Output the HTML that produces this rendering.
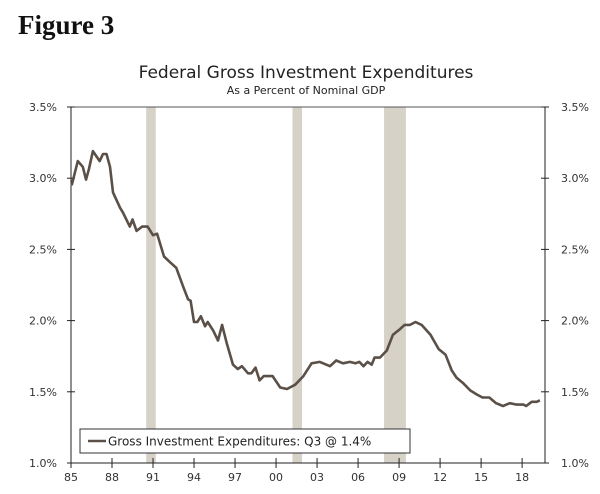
<!DOCTYPE html>
<html><head><meta charset="utf-8"><style>
body{margin:0;background:#fff;width:600px;height:494px;overflow:hidden}
svg{display:block}
</style></head><body>
<svg id="c" width="600" height="494" font-family="DejaVu Sans, Liberation Sans, sans-serif">
<text x="18" y="34" font-family="Liberation Serif, serif" font-weight="bold" font-size="27" fill="#111">Figure 3</text>
<text x="306" y="78" text-anchor="middle" font-size="17" fill="#222">Federal Gross Investment Expenditures</text>
<text x="306" y="94" text-anchor="middle" font-size="11" fill="#222">As a Percent of Nominal GDP</text>
<g id="rec"></g>
<g id="axes"></g>
<path id="line" fill="none" stroke="#5a5048" stroke-width="2.6" stroke-linejoin="round"/>
<g>
<rect x="80" y="429" width="330" height="24" fill="#fff" stroke="#333" stroke-width="1"/>
<line x1="88" y1="441" x2="106" y2="441" stroke="#5a5048" stroke-width="2.6"/>
<text x="108" y="445.5" font-size="12" fill="#222">Gross Investment Expenditures: Q3 @ 1.4%</text>
</g>
</svg>
<script>
const years=[1985.05,1985.5,1985.86,1986.1,1986.3,1986.6,1987.1,1987.34,1987.6,1987.85,1988.07,1988.6,1988.8,1989.3,1989.5,1989.8,1990.2,1990.6,1991.0,1991.3,1991.8,1992.24,1992.7,1993.2,1993.56,1993.75,1994.0,1994.24,1994.5,1994.8,1995.0,1995.4,1995.75,1996.05,1996.4,1996.85,1997.2,1997.5,1997.95,1998.2,1998.5,1998.8,1999.1,1999.75,2000.3,2000.8,2001.4,2002.0,2002.6,2003.2,2003.95,2004.4,2004.9,2005.4,2005.8,2006.1,2006.4,2006.7,2007.0,2007.2,2007.6,2008.1,2008.55,2009.07,2009.4,2009.8,2010.2,2010.65,2011.3,2011.9,2012.4,2012.85,2013.2,2013.7,2014.2,2014.7,2015.1,2015.6,2016.1,2016.6,2017.1,2017.6,2018.1,2018.3,2018.7,2019.07,2019.3];
const values=[2.95,3.12,3.08,2.99,3.06,3.19,3.12,3.17,3.17,3.08,2.90,2.79,2.76,2.66,2.71,2.63,2.66,2.66,2.60,2.61,2.45,2.41,2.37,2.24,2.15,2.14,1.99,1.99,2.03,1.96,1.99,1.93,1.86,1.97,1.84,1.69,1.66,1.68,1.63,1.63,1.67,1.58,1.61,1.61,1.53,1.52,1.55,1.61,1.70,1.71,1.68,1.72,1.70,1.71,1.70,1.71,1.68,1.71,1.69,1.74,1.74,1.79,1.90,1.94,1.97,1.97,1.99,1.97,1.90,1.80,1.76,1.65,1.60,1.56,1.51,1.48,1.46,1.46,1.42,1.40,1.42,1.41,1.41,1.40,1.43,1.43,1.44];
const recStart=[1990.5,2001.2,2007.9];
const recEnd=[1991.2,2001.9,2009.5];
const xTicks=[1985,1988,1991,1994,1997,2000,2003,2006,2009,2012,2015,2018];
const xLabels=["85","88","91","94","97","00","03","06","09","12","15","18"];
const yTicks=[1.0,1.5,2.0,2.5,3.0,3.5];
const yLabels=["1.0%","1.5%","2.0%","2.5%","3.0%","3.5%"];
const L=71,R=545,T=107,B=463;
const X=y=>L+(y-1985)*13.67;
const Y=v=>B-(v-1.0)/2.5*(B-T);
const NS="http://www.w3.org/2000/svg";
function mk(tag,attrs,parent){const e=document.createElementNS(NS,tag);for(const k in attrs)e.setAttribute(k,attrs[k]);parent.appendChild(e);return e;}
const rec=document.getElementById('rec');
recStart.forEach((s,i)=>{const r=mk('rect',{x:X(s),y:T,width:X(recEnd[i])-X(s),height:B-T,fill:'#d6d2c8'},rec);

});
const ax=document.getElementById('axes');
let e=mk('line',{x1:L,y1:T,x2:R,y2:T,stroke:'#555','stroke-width':1},ax);

e=mk('line',{x1:L,y1:T,x2:L,y2:B,stroke:'#222','stroke-width':1},ax);

e=mk('line',{x1:R,y1:T,x2:R,y2:B,stroke:'#222','stroke-width':1},ax);

e=mk('line',{x1:L,y1:B,x2:R,y2:B,stroke:'#222','stroke-width':1},ax);

yTicks.forEach((v,i)=>{const y=Y(v);
mk('line',{x1:L-4,y1:y,x2:L+4,y2:y,stroke:'#222'},ax);
mk('line',{x1:R-4,y1:y,x2:R+4,y2:y,stroke:'#222'},ax);
const t1=mk('text',{x:L-14,y:y+4,'text-anchor':'end','font-size':11,fill:'#333'},ax);t1.textContent=yLabels[i];


const t2=mk('text',{x:R+16,y:y+4,'text-anchor':'start','font-size':11,fill:'#333'},ax);t2.textContent=yLabels[i];

});
xTicks.forEach((v,i)=>{const x=X(v);
mk('line',{x1:x,y1:B-5,x2:x,y2:B+5,stroke:'#222'},ax);
const t=mk('text',{x:x,y:B+18,'text-anchor':'middle','font-size':11,fill:'#333'},ax);t.textContent=xLabels[i];

});
document.getElementById('line').setAttribute('d',years.map((y,i)=>(i?'L':'M')+X(y).toFixed(1)+','+Y(values[i]).toFixed(1)).join(''));
</script>
</body></html>
